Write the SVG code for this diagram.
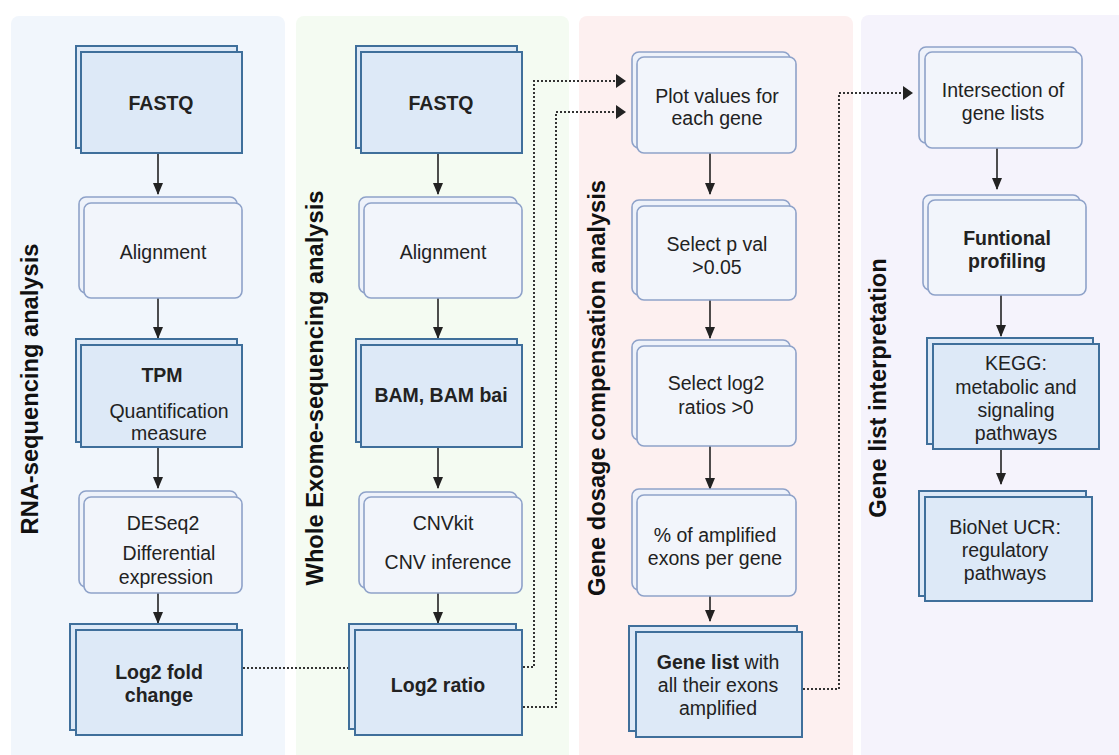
<svg xmlns="http://www.w3.org/2000/svg" width="1119" height="755" viewBox="0 0 1119 755">
<defs>
<marker id="ah" viewBox="0 0 12 10" refX="11" refY="5" markerWidth="12" markerHeight="10" markerUnits="userSpaceOnUse" orient="auto"><path d="M0,0 L12,5 L0,10 z" fill="#222"/></marker>
</defs>
<style>
text{font-family:"Liberation Sans",Arial,sans-serif;font-size:19.5px;fill:#222;text-anchor:middle}
.b{font-weight:bold}
.lab{font-weight:bold;font-size:23.7px;fill:#111}
.bb{fill:#dde9f7;stroke:#3f6f9b;stroke-width:2}
.bf{fill:#dde9f7;stroke:#3f6f9b;stroke-width:2}
.lb{fill:#eef2fa;stroke:#8ea2c9;stroke-width:1.6}
.lf{fill:#f2f5fb;stroke:#8ea2c9;stroke-width:1.6}
.ar{stroke:#222;stroke-width:1.6;fill:none;marker-end:url(#ah)}
.dt{stroke:#333;stroke-width:2;stroke-dasharray:2 2;fill:none}
</style>
<rect width="1119" height="755" fill="#fff"/>
<g id="panels">
<rect x="11" y="16" width="274" height="760" rx="8" fill="#f1f6fc"/>
<rect x="296" y="16" width="273" height="760" rx="8" fill="#f4fbf2"/>
<rect x="579" y="16" width="274" height="760" rx="8" fill="#fdf0f0"/>
<rect x="861" y="15" width="270" height="760" rx="8" fill="#f5f3fc"/>
</g>
<g id="labels">
<text class="lab" transform="translate(38,389) rotate(-90)">RNA-sequencing analysis</text>
<text class="lab" transform="translate(323,388) rotate(-90)">Whole Exome-sequencing analysis</text>
<text class="lab" transform="translate(605,388) rotate(-90)">Gene dosage compensation analysis</text>
<text class="lab" transform="translate(886,388) rotate(-90)">Gene list interpretation</text>
</g>
<g id="connectors">
<line class="ar" x1="158" y1="153" x2="158" y2="194"/>
<line class="ar" x1="158" y1="298" x2="158" y2="338"/>
<line class="ar" x1="158" y1="447" x2="158" y2="488"/>
<line class="ar" x1="158" y1="593" x2="158" y2="623"/>
<line class="ar" x1="438" y1="153" x2="438" y2="194"/>
<line class="ar" x1="438" y1="298" x2="438" y2="338"/>
<line class="ar" x1="438" y1="447" x2="438" y2="488"/>
<line class="ar" x1="438" y1="593" x2="438" y2="623"/>
<line class="ar" x1="710" y1="153" x2="710" y2="194"/>
<line class="ar" x1="710" y1="300" x2="710" y2="338"/>
<line class="ar" x1="710" y1="446" x2="710" y2="489"/>
<line class="ar" x1="710" y1="596" x2="710" y2="621"/>
<line class="ar" x1="997" y1="148" x2="997" y2="189"/>
<line class="ar" x1="1001" y1="295" x2="1001" y2="336"/>
<line class="ar" x1="1001" y1="449" x2="1001" y2="484"/>
<line class="dt" x1="243" y1="668" x2="349" y2="668"/>
<polyline class="dt" points="523,667 534,667 534,81 618,81"/>
<polyline class="dt" points="523,707 556,707 556,112 618,112"/>
<polyline class="dt" points="803,689 839,689 839,93 905,93"/>
<path d="M616,74 L626,81 L616,88 z" fill="#222"/>
<path d="M616,105 L626,112 L616,119 z" fill="#222"/>
<path d="M903,86 L913,93 L903,100 z" fill="#222"/>
</g>
<g id="n-fastq1"><rect class="bb" x="76" y="46" width="161" height="102"/><rect class="bf" x="81" y="52" width="161" height="101"/><text class="b" x="161" y="110">FASTQ</text></g>
<g id="n-align1"><rect class="lb" x="79" y="197" width="158" height="96" rx="7"/><rect class="lf" x="84" y="203" width="158" height="95" rx="7"/><text x="163" y="259">Alignment</text></g>
<g id="n-tpm"><rect class="bb" x="76" y="339" width="161" height="103"/><rect class="bf" x="81" y="345" width="161" height="102"/><text class="b" x="162" y="382">TPM</text><text x="169" y="418">Quantification</text><text x="169" y="440">measure</text></g>
<g id="n-deseq"><rect class="lb" x="79" y="491" width="158" height="96" rx="7"/><rect class="lf" x="84" y="497" width="158" height="96" rx="7"/><text x="163" y="530">DESeq2</text><text x="169" y="560">Differential</text><text x="166" y="584">expression</text></g>
<g id="n-lfc"><rect class="bb" x="70" y="624" width="167" height="106"/><rect class="bf" x="76" y="630" width="166" height="105"/><text class="b" x="159" y="679">Log2 fold</text><text class="b" x="159" y="702">change</text></g>
<g id="n-fastq2"><rect class="bb" x="356" y="46" width="161" height="102"/><rect class="bf" x="361" y="52" width="161" height="101"/><text class="b" x="441" y="110">FASTQ</text></g>
<g id="n-align2"><rect class="lb" x="359" y="197" width="158" height="96" rx="7"/><rect class="lf" x="364" y="203" width="158" height="95" rx="7"/><text x="443" y="259">Alignment</text></g>
<g id="n-bam"><rect class="bb" x="356" y="339" width="161" height="103"/><rect class="bf" x="361" y="345" width="161" height="102"/><text class="b" x="441" y="402">BAM, BAM bai</text></g>
<g id="n-cnv"><rect class="lb" x="359" y="492" width="158" height="96" rx="7"/><rect class="lf" x="364" y="497" width="158" height="96" rx="7"/><text x="443" y="530">CNVkit</text><text x="448" y="569">CNV inference</text></g>
<g id="n-lr"><rect class="bb" x="349" y="624" width="167" height="105"/><rect class="bf" x="355" y="630" width="167" height="105"/><text class="b" x="438" y="692">Log2 ratio</text></g>
<g id="n-plot"><rect class="lb" x="632" y="52" width="158" height="96" rx="7"/><rect class="lf" x="637" y="57" width="159" height="96" rx="7"/><text x="717" y="103">Plot values for</text><text x="717" y="125">each gene</text></g>
<g id="n-pval"><rect class="lb" x="632" y="200" width="158" height="95" rx="7"/><rect class="lf" x="637" y="206" width="159" height="94" rx="7"/><text x="717" y="251">Select p val</text><text x="717" y="274">&gt;0.05</text></g>
<g id="n-log2"><rect class="lb" x="632" y="340" width="158" height="100" rx="7"/><rect class="lf" x="637" y="346" width="159" height="100" rx="7"/><text x="716" y="390">Select log2</text><text x="716" y="414">ratios &gt;0</text></g>
<g id="n-pct"><rect class="lb" x="632" y="489" width="158" height="101" rx="7"/><rect class="lf" x="637" y="495" width="159" height="101" rx="7"/><text x="715" y="542">% of amplified</text><text x="715" y="565">exons per gene</text></g>
<g id="n-genelist"><rect class="bb" x="629" y="626" width="168" height="105"/><rect class="bf" x="636" y="632" width="166" height="105"/><text x="718" y="669"><tspan class="b">Gene list</tspan> with</text><text x="718" y="692">all their exons</text><text x="718" y="715">amplified</text></g>
<g id="n-inter"><rect class="lb" x="919" y="47" width="158" height="96" rx="7"/><rect class="lf" x="925" y="52" width="157" height="96" rx="7"/><text x="1003" y="97">Intersection of</text><text x="1003" y="120">gene lists</text></g>
<g id="n-func"><rect class="lb" x="923" y="195" width="157" height="95" rx="7"/><rect class="lf" x="928" y="200" width="158" height="95" rx="7"/><text class="b" x="1007" y="245">Funtional</text><text class="b" x="1007" y="268">profiling</text></g>
<g id="n-kegg"><rect class="bb" x="927" y="338" width="166" height="106"/><rect class="bf" x="933" y="344" width="166" height="105"/><text x="1016" y="370">KEGG:</text><text x="1016" y="394">metabolic and</text><text x="1016" y="417">signaling</text><text x="1016" y="440">pathways</text></g>
<g id="n-bionet"><rect class="bb" x="919" y="491" width="167" height="105"/><rect class="bf" x="925" y="497" width="167" height="104"/><text x="1005" y="534">BioNet UCR:</text><text x="1005" y="557">regulatory</text><text x="1005" y="580">pathways</text></g>
</svg>
